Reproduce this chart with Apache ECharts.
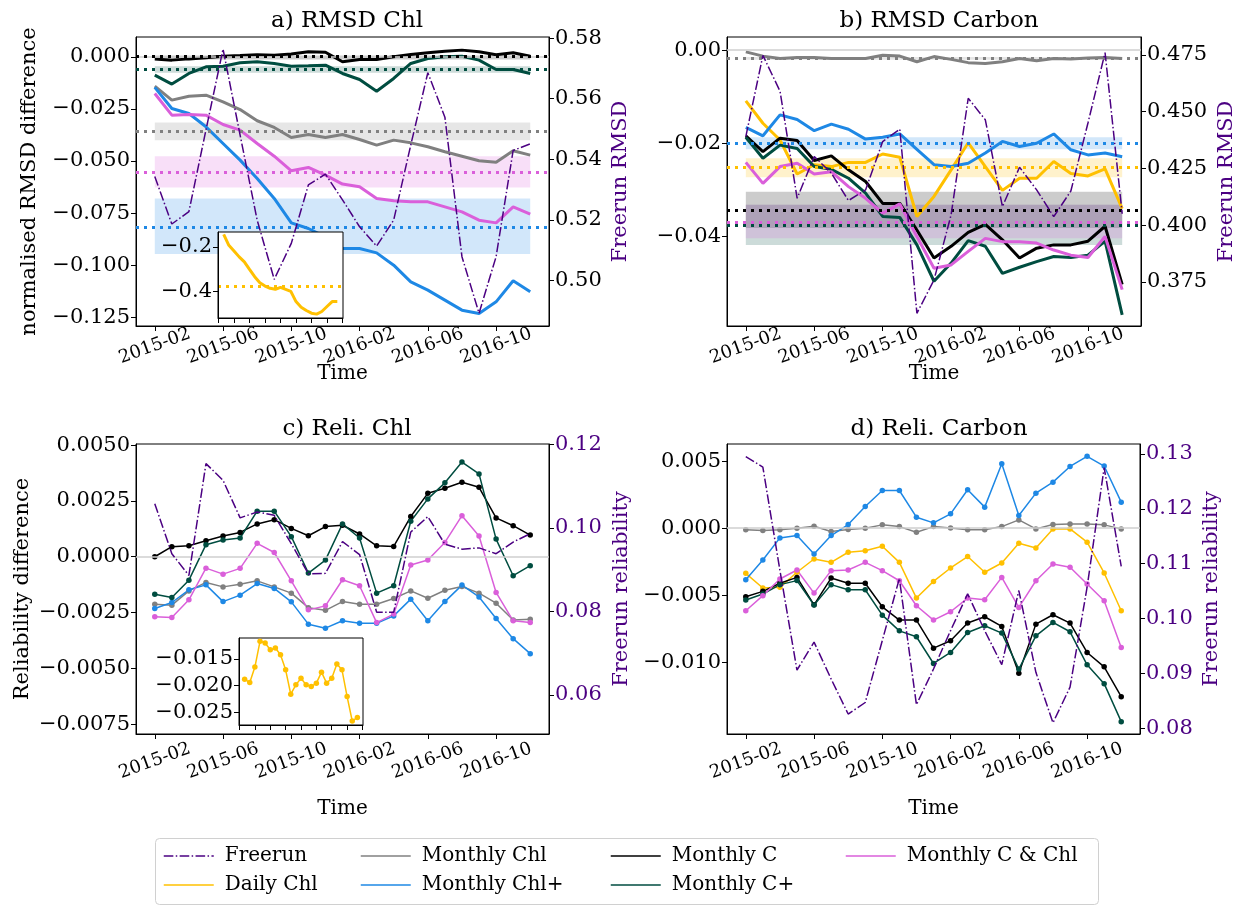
<!DOCTYPE html>
<html>
<head>
<meta charset="utf-8">
<script src="https://cdn.jsdelivr.net/npm/echarts@6/dist/echarts.min.js"></script>
<style>
  html, body { margin: 0; padding: 0; background: #fff; }
  #chart { width: 1239px; height: 907px; }
</style>
</head>
<body>
<div id="chart"></div>
<script>
const months = ["2015-02", "2015-03", "2015-04", "2015-05", "2015-06", "2015-07", "2015-08", "2015-09",
  "2015-10", "2015-11", "2015-12", "2016-01", "2016-02", "2016-03", "2016-04", "2016-05", "2016-06",
  "2016-07", "2016-08", "2016-09", "2016-10", "2016-11", "2016-12"];
const monthTicks = [0, 4, 8, 12, 16, 20];
const insetTicks = [-1, 2, 5, 8, 11, 14, 17, 20, 23];

// a) RMSD Chl
const aFreerun = [0.5343, 0.5186, 0.5227, 0.5497, 0.5764, 0.5480, 0.5199, 0.5003, 0.5122, 0.5315, 0.5351, 0.5266, 0.5177, 0.5113, 0.5199, 0.5447, 0.5686, 0.5539, 0.5078, 0.4891, 0.5078, 0.5429, 0.5451];
const aDailyChl = [-0.1437, -0.1926, -0.2178, -0.2444, -0.2667, -0.3007, -0.3333, -0.3600, -0.3748, -0.3852, -0.3896, -0.3807, -0.3896, -0.3985, -0.4444, -0.4696, -0.4844, -0.4963, -0.5007, -0.4889, -0.4667, -0.4444, -0.4444];
const aMonthlyChl = [-0.0141, -0.0208, -0.0189, -0.0184, -0.0216, -0.0253, -0.0307, -0.0339, -0.0387, -0.0373, -0.0387, -0.0373, -0.0397, -0.0424, -0.0400, -0.0413, -0.0432, -0.0456, -0.0477, -0.0499, -0.0506, -0.0451, -0.0472];
const aMonthlyChlPlus = [-0.0147, -0.0248, -0.0272, -0.0336, -0.0416, -0.0496, -0.0584, -0.0680, -0.0797, -0.0824, -0.0864, -0.0920, -0.0920, -0.0941, -0.1000, -0.1080, -0.1120, -0.1168, -0.1216, -0.1232, -0.1176, -0.1075, -0.1128];
const aMonthlyC = [-0.0011, -0.0016, -0.0010, -0.0005, 0.0003, 0.0006, 0.0010, 0.0008, 0.0013, 0.0024, 0.0022, -0.0024, -0.0013, -0.0013, 0.0000, 0.0011, 0.0019, 0.0027, 0.0032, 0.0024, 0.0010, 0.0019, 0.0003];
const aMonthlyCPlus = [-0.0088, -0.0131, -0.0080, -0.0048, -0.0045, -0.0029, -0.0024, -0.0032, -0.0045, -0.0043, -0.0040, -0.0080, -0.0109, -0.0165, -0.0104, -0.0032, -0.0008, 0.0000, 0.0003, -0.0016, -0.0061, -0.0061, -0.0080];
const aMonthlyCChl = [-0.0176, -0.0280, -0.0277, -0.0280, -0.0325, -0.0352, -0.0416, -0.0477, -0.0547, -0.0531, -0.0568, -0.0611, -0.0624, -0.0680, -0.0691, -0.0696, -0.0696, -0.0720, -0.0744, -0.0784, -0.0797, -0.0720, -0.0755];
// mean and spread, order: Daily Chl, Monthly Chl, Monthly Chl+, Monthly C, Monthly C+, Monthly C & Chl
const aMean = [-0.3778, -0.0358, -0.0816, 0.0005, -0.0059, -0.0552];
const aLow = [-0.4150, -0.0400, -0.0947, -0.0013, -0.0077, -0.0627];
const aHigh = [-0.3360, -0.0315, -0.0680, 0.0006, -0.0045, -0.0477];

// b) RMSD Carbon
const bFreerun = [0.4390, 0.4748, 0.4590, 0.4118, 0.4302, 0.4229, 0.4108, 0.4155, 0.4368, 0.4423, 0.3611, 0.3758, 0.4045, 0.4559, 0.4464, 0.4081, 0.4255, 0.4155, 0.4037, 0.4150, 0.4450, 0.4760, 0.4050];
const bDailyChl = [-0.0109, -0.0157, -0.0193, -0.0266, -0.0246, -0.0250, -0.0241, -0.0241, -0.0223, -0.0230, -0.0357, -0.0314, -0.0257, -0.0199, -0.0250, -0.0301, -0.0275, -0.0275, -0.0239, -0.0265, -0.0270, -0.0255, -0.0340];
const bMonthlyChl = [-0.0004, -0.0013, -0.0018, -0.0016, -0.0016, -0.0018, -0.0018, -0.0018, -0.0011, -0.0013, -0.0025, -0.0014, -0.0020, -0.0027, -0.0029, -0.0025, -0.0018, -0.0023, -0.0018, -0.0019, -0.0017, -0.0016, -0.0018];
const bMonthlyChlPlus = [-0.0166, -0.0184, -0.0139, -0.0149, -0.0173, -0.0159, -0.0170, -0.0191, -0.0187, -0.0180, -0.0213, -0.0246, -0.0250, -0.0243, -0.0221, -0.0196, -0.0207, -0.0200, -0.0180, -0.0214, -0.0225, -0.0221, -0.0229];
const bMonthlyC = [-0.0184, -0.0218, -0.0189, -0.0194, -0.0237, -0.0227, -0.0257, -0.0282, -0.0329, -0.0329, -0.0386, -0.0446, -0.0421, -0.0391, -0.0374, -0.0407, -0.0446, -0.0425, -0.0418, -0.0418, -0.0410, -0.0378, -0.0503];
const bMonthlyCPlus = [-0.0187, -0.0232, -0.0204, -0.0211, -0.0250, -0.0256, -0.0275, -0.0307, -0.0357, -0.0359, -0.0418, -0.0496, -0.0457, -0.0409, -0.0421, -0.0479, -0.0466, -0.0454, -0.0443, -0.0445, -0.0440, -0.0410, -0.0568];
const bMonthlyCChl = [-0.0241, -0.0286, -0.0250, -0.0243, -0.0266, -0.0261, -0.0293, -0.0318, -0.0350, -0.0330, -0.0400, -0.0468, -0.0461, -0.0432, -0.0404, -0.0411, -0.0411, -0.0414, -0.0429, -0.0440, -0.0445, -0.0400, -0.0514];
const bMean = [-0.0252, -0.0018, -0.0200, -0.0343, -0.0376, -0.0369];
const bLow = [-0.0273, -0.0021, -0.0213, -0.0382, -0.0418, -0.0404];
const bHigh = [-0.0232, -0.0015, -0.0187, -0.0304, -0.0332, -0.0332];

// c) Reli. Chl
const cFreerun = [0.1058, 0.0938, 0.0886, 0.1154, 0.1114, 0.1024, 0.1038, 0.1030, 0.0962, 0.0890, 0.0891, 0.0967, 0.0936, 0.0798, 0.0798, 0.0990, 0.1027, 0.0961, 0.0949, 0.0952, 0.0938, 0.0966, 0.0986];
const cDailyChl = [-0.01881, -0.01944, -0.01656, -0.01175, -0.01206, -0.01331, -0.01300, -0.01425, -0.01706, -0.02163, -0.01988, -0.01863, -0.01988, -0.02019, -0.01956, -0.01750, -0.01956, -0.01863, -0.01600, -0.01706, -0.02206, -0.02663, -0.02600];
const cMonthlyChl = [-0.00213, -0.00217, -0.00153, -0.00115, -0.00135, -0.00123, -0.00108, -0.00135, -0.00163, -0.00228, -0.00240, -0.00201, -0.00213, -0.00213, -0.00187, -0.00153, -0.00186, -0.00150, -0.00133, -0.00163, -0.00208, -0.00283, -0.00280];
const cMonthlyChlPlus = [-0.00232, -0.00205, -0.00148, -0.00126, -0.00201, -0.00172, -0.00120, -0.00142, -0.00202, -0.00302, -0.00320, -0.00287, -0.00298, -0.00298, -0.00265, -0.00190, -0.00287, -0.00201, -0.00127, -0.00180, -0.00277, -0.00367, -0.00434];
const cMonthlyC = [0.00000, 0.00045, 0.00049, 0.00072, 0.00093, 0.00109, 0.00147, 0.00166, 0.00127, 0.00094, 0.00135, 0.00141, 0.00102, 0.00049, 0.00046, 0.00180, 0.00284, 0.00307, 0.00334, 0.00311, 0.00174, 0.00139, 0.00097];
const cMonthlyCPlus = [-0.00168, -0.00183, -0.00105, 0.00054, 0.00075, 0.00084, 0.00204, 0.00204, 0.00090, -0.00073, -0.00015, 0.00147, 0.00084, -0.00163, -0.00130, 0.00159, 0.00259, 0.00331, 0.00424, 0.00371, 0.00079, -0.00085, -0.00040];
const cMonthlyCChl = [-0.00269, -0.00272, -0.00193, -0.00051, -0.00078, -0.00052, 0.00060, 0.00019, -0.00108, -0.00238, -0.00220, -0.00103, -0.00130, -0.00295, -0.00257, -0.00037, -0.00015, 0.00064, 0.00184, 0.00093, -0.00160, -0.00287, -0.00295];

// d) Reli. Carbon
const dFreerun = [0.1295, 0.1276, 0.1088, 0.0906, 0.0957, 0.0890, 0.0826, 0.0847, 0.0960, 0.1073, 0.0843, 0.0908, 0.0978, 0.1045, 0.0978, 0.0916, 0.1051, 0.0902, 0.0810, 0.0875, 0.1057, 0.1275, 0.1095];
const dDailyChl = [-0.00336, -0.00445, -0.00440, -0.00328, -0.00229, -0.00254, -0.00179, -0.00167, -0.00134, -0.00254, -0.00520, -0.00396, -0.00296, -0.00211, -0.00328, -0.00259, -0.00112, -0.00147, -0.00005, -0.00005, -0.00104, -0.00333, -0.00614];
const dMonthlyChl = [-0.00012, -0.00017, -0.00012, 0.00000, 0.00015, -0.00025, -0.00010, 0.00000, 0.00025, 0.00012, -0.00030, 0.00012, 0.00002, -0.00012, -0.00012, 0.00012, 0.00062, -0.00005, 0.00027, 0.00032, 0.00032, 0.00025, -0.00005];
const dMonthlyChlPlus = [-0.00383, -0.00236, -0.00072, -0.00055, -0.00192, -0.00055, 0.00027, 0.00162, 0.00281, 0.00281, 0.00082, 0.00040, 0.00107, 0.00286, 0.00157, 0.00480, 0.00095, 0.00261, 0.00343, 0.00460, 0.00535, 0.00463, 0.00194];
const dMonthlyC = [-0.00510, -0.00470, -0.00410, -0.00366, -0.00570, -0.00371, -0.00410, -0.00410, -0.00585, -0.00684, -0.00684, -0.00893, -0.00838, -0.00706, -0.00659, -0.00731, -0.01080, -0.00714, -0.00644, -0.00706, -0.00925, -0.01032, -0.01254];
const dMonthlyCPlus = [-0.00535, -0.00490, -0.00420, -0.00390, -0.00572, -0.00420, -0.00458, -0.00458, -0.00647, -0.00764, -0.00808, -0.01007, -0.00925, -0.00776, -0.00726, -0.00781, -0.01049, -0.00801, -0.00701, -0.00771, -0.01017, -0.01157, -0.01440];
const dMonthlyCChl = [-0.00614, -0.00502, -0.00378, -0.00311, -0.00483, -0.00316, -0.00311, -0.00254, -0.00316, -0.00391, -0.00577, -0.00684, -0.00622, -0.00520, -0.00532, -0.00366, -0.00590, -0.00391, -0.00266, -0.00291, -0.00415, -0.00540, -0.00888];

// axis tick labels
const aLeftTicks = [0, -0.025, -0.05, -0.075, -0.1, -0.125];
const aRightTicks = [0.5, 0.52, 0.54, 0.56, 0.58];
const bLeftTicks = [0, -0.02, -0.04];
const bRightTicks = [0.375, 0.4, 0.425, 0.45, 0.475];
const cLeftTicks = [0.005, 0.0025, 0, -0.0025, -0.005, -0.0075];
const cRightTicks = [0.06, 0.08, 0.1, 0.12];
const dLeftTicks = [0.005, 0, -0.005, -0.01];
const dRightTicks = [0.08, 0.09, 0.1, 0.11, 0.12, 0.13];
const aInsetTicks = [-0.2, -0.4];
const cInsetTicks = [-0.015, -0.02, -0.025];

const FONT = "DejaVu Serif";
const PURPLE = "#4B0082";
const COLORS = {
  "Freerun": PURPLE,
  "Daily Chl": "#FFC000",
  "Monthly Chl": "#808080",
  "Monthly Chl+": "#1E88E5",
  "Monthly C": "#000000",
  "Monthly C+": "#004D40",
  "Monthly C & Chl": "#DA5FDA",
};
const bandNames = ["Daily Chl", "Monthly Chl", "Monthly Chl+", "Monthly C", "Monthly C+", "Monthly C & Chl"];

const chart = echarts.init(document.getElementById("chart"));

const fmt = (d) => (v) => v.toFixed(d).replace("-", "\u2212");
const pts = (vals) => vals.map((v, i) => [i, v]);
const zeroLine = { yAxis: 0, lineStyle: { color: "#cfcfcf", type: "solid", width: 1.5 } };

function xAx(grid, withLabels, nameGap, margin) {
  return {
    type: "value", gridIndex: grid, min: -1.1, max: 23.1,
    name: withLabels ? "Time" : "", nameLocation: "middle", nameGap,
    nameMoveOverlap: false,
    nameTextStyle: { fontFamily: FONT, fontSize: 20, color: "#000" },
    axisLine: { show: true, onZero: false, lineStyle: { color: "#000", width: 1 } },
    axisTick: { show: true, length: 5, customValues: withLabels ? monthTicks : insetTicks, lineStyle: { color: "#000" } },
    axisLabel: {
      show: withLabels, customValues: monthTicks, rotate: 20, margin,
      align: "center", verticalAlign: "middle",
      formatter: (v) => months[Math.round(v)] || "",
      fontFamily: FONT, fontSize: 18, color: "#000",
    },
    splitLine: { show: false },
  };
}

function yAx(grid, min, max, ticks, dec, opts = {}) {
  const color = opts.color || "#000";
  return {
    type: "value", gridIndex: grid, min, max, position: opts.right ? "right" : "left",
    name: opts.name || "", nameLocation: "middle", nameRotate: 90, nameGap: opts.gap || 60,
    nameMoveOverlap: false,
    nameTextStyle: { fontFamily: FONT, fontSize: 21, color: opts.nameColor || "#000" },
    z: opts.z || 0,
    axisLine: { show: true, onZero: false, lineStyle: { color: "#000", width: 1 } },
    axisTick: { show: true, length: 5, customValues: ticks, lineStyle: { color: "#000" } },
    axisLabel: { customValues: ticks, formatter: fmt(dec), fontFamily: FONT, fontSize: 21, color, margin: 6 },
    splitLine: { show: false },
  };
}

function freerun(vals, xi, yi) {
  return {
    name: "Freerun", type: "line", xAxisIndex: xi, yAxisIndex: yi, data: pts(vals),
    symbol: "none", z: 6, silent: true,
    lineStyle: { color: PURPLE, width: 1.5, type: [9.6, 2.4, 1.5, 2.4] },
    itemStyle: { color: PURPLE },
  };
}

function thick(name, vals, xi, yi, mean, lo, hi, extra) {
  const color = COLORS[name];
  const lines = [{ yAxis: mean }];
  if (extra) lines.unshift(extra);
  return {
    name, type: "line", xAxisIndex: xi, yAxisIndex: yi, data: pts(vals),
    symbol: "none", silent: true, z: 3,
    lineStyle: { color, width: 3 }, itemStyle: { color },
    markLine: {
      silent: true, symbol: "none", label: { show: false }, animation: false, precision: 8,
      lineStyle: { color, type: [3, 5], width: 3, opacity: 1 },
      data: lines,
    },
    markArea: {
      silent: true, itemStyle: { color, opacity: 0.2 },
      data: [[{ xAxis: 0, yAxis: lo }, { xAxis: 22, yAxis: hi }]],
    },
  };
}

function thin(name, vals, xi, yi, extra) {
  const color = COLORS[name];
  const s = {
    name, type: "line", xAxisIndex: xi, yAxisIndex: yi, data: pts(vals),
    symbol: "circle", symbolSize: 5.5, showSymbol: true, silent: true, z: 3,
    lineStyle: { color, width: 1.5 }, itemStyle: { color },
  };
  if (extra) {
    s.markLine = { silent: true, symbol: "none", label: { show: false }, animation: false, precision: 8, data: [extra] };
  }
  return s;
}

const series = [];
// panel a
const aVals = [null, aMonthlyChl, aMonthlyChlPlus, aMonthlyC, aMonthlyCPlus, aMonthlyCChl];
for (let k = 1; k < 6; k++) {
  series.push(thick(bandNames[k], aVals[k], 0, 0, aMean[k], aLow[k], aHigh[k], k === 1 ? zeroLine : null));
}
// inset a
const aInset = thick("Daily Chl", aDailyChl, 4, 8, aMean[0], aLow[0], aHigh[0]);
aInset.z = 5;
series.push(aInset);
series.push(freerun(aFreerun, 0, 1));

// panel b
const bVals = [bDailyChl, bMonthlyChl, bMonthlyChlPlus, bMonthlyC, bMonthlyCPlus, bMonthlyCChl];
for (let k = 0; k < 6; k++) {
  series.push(thick(bandNames[k], bVals[k], 1, 2, bMean[k], bLow[k], bHigh[k], k === 1 ? zeroLine : null));
}
series.push(freerun(bFreerun, 1, 3));

// panel c
const cVals = [null, cMonthlyChl, cMonthlyChlPlus, cMonthlyC, cMonthlyCPlus, cMonthlyCChl];
for (let k = 1; k < 6; k++) {
  series.push(thin(bandNames[k], cVals[k], 2, 4, k === 1 ? zeroLine : null));
}
const cInset = thin("Daily Chl", cDailyChl, 5, 9);
cInset.z = 5;
series.push(cInset);
series.push(freerun(cFreerun, 2, 5));

// panel d
const dVals = [dDailyChl, dMonthlyChl, dMonthlyChlPlus, dMonthlyC, dMonthlyCPlus, dMonthlyCChl];
for (let k = 0; k < 6; k++) {
  series.push(thin(bandNames[k], dVals[k], 3, 6, k === 1 ? zeroLine : null));
}
series.push(freerun(dFreerun, 3, 7));

const frame = { show: true, borderColor: "#000", borderWidth: 1, backgroundColor: "#fff" };
const legendBase = {
  orient: "horizontal", itemWidth: 50, itemHeight: 14,
  selectedMode: false, padding: 0,
  lineStyle: { width: 1.5 },
  itemStyle: { opacity: 0 },
  textStyle: { fontFamily: FONT, fontSize: 20, color: "#000", padding: [0, 0, 0, 6] },
};
const legendCells = [
  ["Freerun", 163, 846], ["Daily Chl", 163, 875],
  ["Monthly Chl", 360, 846], ["Monthly Chl+", 360, 875],
  ["Monthly C", 610, 846], ["Monthly C+", 610, 875],
  ["Monthly C & Chl", 845, 846],
];
const titleStyle = { fontFamily: FONT, fontSize: 23, fontWeight: "normal", color: "#000" };

chart.setOption({
  animation: false,
  backgroundColor: "#fff",
  title: [
    { text: "a) RMSD Chl", left: 342, top: 5, textAlign: "center", textStyle: titleStyle },
    { text: "b) RMSD Carbon", left: 934, top: 5, textAlign: "center", textStyle: titleStyle },
    { text: "c) Reli. Chl", left: 342, top: 413, textAlign: "center", textStyle: titleStyle },
    { text: "d) Reli. Carbon", left: 934, top: 413, textAlign: "center", textStyle: titleStyle },
  ],
  grid: [
    { left: 136, top: 37, width: 413, height: 289, ...frame },
    { left: 727, top: 37, width: 414, height: 289, ...frame },
    { left: 136, top: 444, width: 413, height: 290, ...frame },
    { left: 727, top: 444, width: 413, height: 290, ...frame },
    { left: 218, top: 232, width: 125, height: 86, ...frame, z: 4 },
    { left: 239, top: 638, width: 124, height: 87, ...frame, z: 4 },
  ],
  xAxis: [xAx(0, true, 38, 20), xAx(1, true, 38, 20), xAx(2, true, 65, 27), xAx(3, true, 65, 27),
    { ...xAx(4, false, 0, 0), z: 5 }, { ...xAx(5, false, 0, 0), z: 5 }],
  yAxis: [
    yAx(0, -0.1292, 0.0095, aLeftTicks, 3, { name: "normalised RMSD difference", gap: 96 }),
    yAx(0, 0.4849, 0.5804, aRightTicks, 2, { right: true, name: "Freerun RMSD", nameColor: PURPLE, gap: 61 }),
    yAx(1, -0.0592, 0.0028, bLeftTicks, 2),
    yAx(1, 0.3555, 0.4829, bRightTicks, 3, { right: true, name: "Freerun RMSD", nameColor: PURPLE, gap: 75 }),
    yAx(2, -0.00794, 0.00505, cLeftTicks, 4, { name: "Reliability difference", gap: 103 }),
    yAx(2, 0.0506, 0.1201, cRightTicks, 2, { right: true, name: "Freerun reliability", nameColor: PURPLE, color: PURPLE, gap: 62 }),
    yAx(3, -0.01532, 0.00627, dLeftTicks, 3),
    yAx(3, 0.07896, 0.1318, dRightTicks, 2, { right: true, name: "Freerun reliability", nameColor: PURPLE, color: PURPLE, gap: 61 }),
    yAx(4, -0.518, -0.133, aInsetTicks, 1, { z: 5 }),
    yAx(5, -0.02738, -0.01112, cInsetTicks, 3, { z: 5 }),
  ],
  legend: legendCells.map(([name, left, top]) => ({ ...legendBase, left, top, data: [name] })),
  graphic: [
    { type: "rect", z: 0, silent: true, shape: { x: 155.5, y: 838.5, width: 943, height: 66, r: 4 },
      style: { fill: "#fff", stroke: "#d0d0d0", lineWidth: 1 } },
  ],
  series,
});
</script>
</body>
</html>
